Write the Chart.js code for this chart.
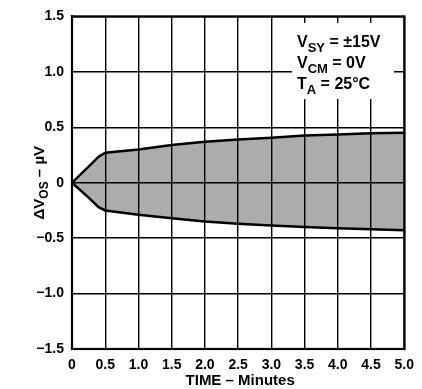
<!DOCTYPE html>
<html>
<head>
<meta charset="utf-8">
<script src="https://cdn.jsdelivr.net/npm/chart.js@4/dist/chart.umd.min.js"></script>
<style>
  html, body { margin: 0; padding: 0; background: #fff; }
  #wrap { width: 422px; height: 389px; }
</style>
</head>
<body>
<div id="wrap"><canvas id="drift"></canvas></div>
<script>
// offset drift envelope vs. time after power-up
var timeMin = [0, 0.25, 0.4, 0.5, 1.0, 1.5, 2.0, 2.5, 3.0, 3.5, 4.0, 4.5, 5.0];
var upperUV = [0, 0.145, 0.235, 0.27, 0.30, 0.34, 0.37, 0.39, 0.405, 0.425, 0.435, 0.445, 0.45];
var lowerUV = [0, -0.135, -0.22, -0.25, -0.29, -0.32, -0.35, -0.37, -0.385, -0.40, -0.41, -0.42, -0.43];

var xTicks = [0, 0.5, 1.0, 1.5, 2.0, 2.5, 3.0, 3.5, 4.0, 4.5, 5.0];
var yTicks = [-1.5, -1.0, -0.5, 0, 0.5, 1.0, 1.5];

var FONT = '"Liberation Sans", Arial, Helvetica, sans-serif';

function pts(xs, ys) {
  var out = [];
  for (var i = 0; i < xs.length; i++) out.push({ x: xs[i], y: ys[i] });
  return out;
}

function fmt(v) {
  if (v === 0) return "0";
  var s = Math.abs(v).toFixed(1);
  return v < 0 ? "\u2212" + s : s;
}

// draw a run of text pieces, some of them as subscripts
function drawRuns(ctx, runs, x, y, size) {
  runs.forEach(function (r) {
    var fs = r.sub ? Math.round(size * 0.8) : size;
    ctx.font = "bold " + fs + "px " + FONT;
    ctx.fillText(r.t, x, r.sub ? y + size * 0.3 : y);
    x += ctx.measureText(r.t).width;
  });
  return x;
}

function runsWidth(ctx, runs, size) {
  var w = 0;
  runs.forEach(function (r) {
    var fs = r.sub ? Math.round(size * 0.8) : size;
    ctx.font = "bold " + fs + "px " + FONT;
    w += ctx.measureText(r.t).width;
  });
  return w;
}

var conditions = [
  [{ t: "V" }, { t: "SY", sub: true }, { t: " = \u00b115V" }],
  [{ t: "V" }, { t: "CM", sub: true }, { t: " = 0V" }],
  [{ t: "T" }, { t: "A", sub: true }, { t: " = 25\u00b0C" }]
];

var yTitle = [{ t: "\u0394V" }, { t: "OS", sub: true }, { t: " \u2013 \u00b5V" }];

var decorations = {
  id: "decorations",
  afterDraw: function (chart) {
    var ctx = chart.ctx;
    var a = chart.chartArea;
    ctx.save();

    // frame around the plot
    ctx.strokeStyle = "#000";
    ctx.lineWidth = 2.2;
    ctx.strokeRect(a.left, a.top, a.right - a.left, a.bottom - a.top);

    // test conditions box
    ctx.fillStyle = "#fff";
    ctx.fillRect(292, 23, 102, 76);
    ctx.fillStyle = "#000";
    ctx.textBaseline = "alphabetic";
    ctx.textAlign = "left";
    drawRuns(ctx, conditions[0], 297, 47, 16);
    drawRuns(ctx, conditions[1], 297, 68, 16);
    drawRuns(ctx, conditions[2], 297, 89, 16);

    // axis titles
    ctx.font = "bold 15px " + FONT;
    ctx.textAlign = "center";
    ctx.textBaseline = "middle";
    ctx.fillText("TIME \u2013 Minutes", (a.left + a.right) / 2 + 2, 381);

    ctx.translate(40, (a.top + a.bottom) / 2);
    ctx.rotate(-Math.PI / 2);
    ctx.textAlign = "left";
    var w = runsWidth(ctx, yTitle, 15);
    drawRuns(ctx, yTitle, -w / 2, 0, 15);
    ctx.restore();
  }
};

var ctx = document.getElementById("drift").getContext("2d");
var chart = new Chart(ctx, {
  type: "line",
  data: {
    datasets: [
      {
        label: "upper",
        data: pts(timeMin, upperUV),
        borderColor: "#000",
        borderWidth: 2.5,
        backgroundColor: "#acacac",
        fill: "+1",
        pointRadius: 0,
        tension: 0
      },
      {
        label: "lower",
        data: pts(timeMin, lowerUV),
        borderColor: "#000",
        borderWidth: 2.5,
        fill: false,
        pointRadius: 0,
        tension: 0
      }
    ]
  },
  options: {
    responsive: true,
    maintainAspectRatio: false,
    animation: false,
    layout: { padding: { top: 14, right: 14, left: 0, bottom: 0 } },
    plugins: {
      legend: { display: false },
      tooltip: { enabled: false },
      // shade first so the grid shows through it
      filler: { drawTime: "beforeDraw" }
    },
    scales: {
      x: {
        type: "linear",
        min: 0,
        max: 5,
        afterFit: function (s) { s.height = 40; },
        afterBuildTicks: function (s) {
          s.ticks = xTicks.map(function (v) { return { value: v }; });
        },
        ticks: {
          color: "#000",
          padding: 8,
          maxRotation: 0,
          autoSkip: false,
          font: { family: FONT, size: 14, weight: "bold" },
          callback: function (v) { return fmt(v); }
        },
        grid: { color: "#000", lineWidth: 1.4, drawTicks: false },
        border: { color: "#000", width: 2 }
      },
      y: {
        min: -1.5,
        max: 1.5,
        afterFit: function (s) { s.width = 72; },
        afterBuildTicks: function (s) {
          s.ticks = yTicks.map(function (v) { return { value: v }; });
        },
        ticks: {
          color: "#000",
          padding: 8,
          autoSkip: false,
          font: { family: FONT, size: 14, weight: "bold" },
          callback: function (v) { return fmt(v); }
        },
        grid: { color: "#000", lineWidth: 1.4, drawTicks: false },
        border: { color: "#000", width: 2 }
      }
    }
  },
  plugins: [decorations]
});
</script>
</body>
</html>
